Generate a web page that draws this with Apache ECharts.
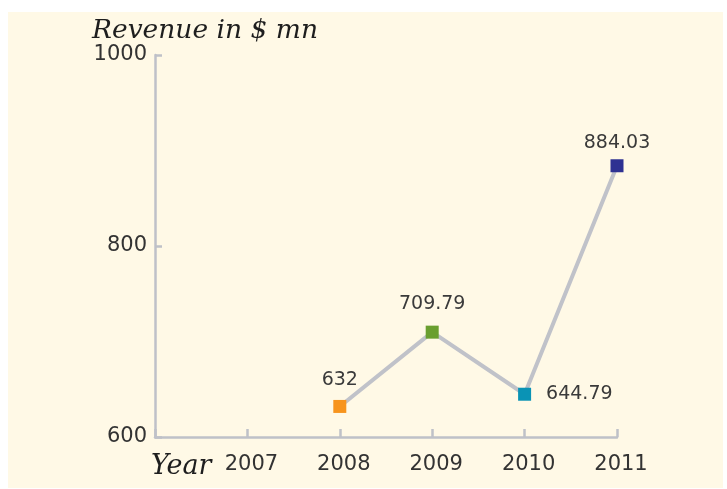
<!DOCTYPE html>
<html>
<head>
<meta charset="utf-8">
<script src="https://cdn.jsdelivr.net/npm/echarts@6/dist/echarts.min.js"></script>
<style>
html,body{margin:0;padding:0;background:#ffffff;}
#chart{width:727px;height:489px;}
</style>
</head>
<body>
<div id="chart"></div>
<script>
const years = [2008, 2009, 2010, 2011];
const revenue = [632, 709.79, 644.79, 884.03];
const revenueLabels = ['632', '709.79', '644.79', '884.03'];
const markerColors = ['#F7941D', '#6A9F2F', '#0A93B5', '#2E3192'];
const labelPositions = ['top', 'top', 'right', 'top'];
const labelDistances = [10, 12, 15, 7];
const xTickLabels = ['', '2007', '2008', '2009', '2010', '2011'];
const yTickLabels = ['600', '800', '1000'];

const chart = echarts.init(document.getElementById('chart'), null, {renderer: 'canvas'});
const axisColor = '#BFC1C8';
const textColor = '#333333';
const numFont = 'DejaVu Sans';

const data = years.map((y, i) => ({
  value: [y, revenue[i]],
  itemStyle: {color: markerColors[i]},
  label: {
    show: true,
    position: labelPositions[i],
    distance: labelDistances[i],
    formatter: revenueLabels[i],
    fontFamily: numFont,
    fontSize: 19,
    color: '#3a3a3a'
  }
}));

chart.setOption({
  animation: false,
  graphic: [
    {type: 'rect', z: -10, shape: {x: 8, y: 12, width: 715, height: 476}, style: {fill: '#FFF9E6'}},
    {type: 'text', left: 92, top: 18, style: {text: 'Revenue in $ mn', font: 'italic 26.5px "DejaVu Serif"', fill: '#1e1e1e'}},
    {type: 'text', left: 151, top: 453, style: {text: 'Year', font: 'italic 27px "DejaVu Serif"', fill: '#1e1e1e'}}
  ],
  grid: {left: 155, right: 110, top: 55, bottom: 52, containLabel: false},
  xAxis: {
    type: 'value',
    min: 2006, max: 2011, interval: 1,
    splitLine: {show: false},
    axisLine: {lineStyle: {color: axisColor, width: 2.5}},
    axisTick: {show: true, inside: true, length: 8, lineStyle: {color: axisColor, width: 2.5}},
    axisLabel: {
      formatter: v => xTickLabels[v - 2006],
      fontFamily: numFont, fontSize: 21, color: textColor, margin: 17,
      padding: [0, 0, 0, 8]
    }
  },
  yAxis: {
    type: 'value',
    min: 600, max: 1000, interval: 200,
    splitLine: {show: false},
    axisLine: {show: true, lineStyle: {color: axisColor, width: 2.5}},
    axisTick: {show: true, inside: true, length: 7, lineStyle: {color: axisColor, width: 2.5}},
    axisLabel: {formatter: v => yTickLabels[(v - 600) / 200], fontFamily: numFont, fontSize: 21, color: textColor, margin: 8}
  },
  series: [{
    type: 'line',
    data: data,
    symbol: 'rect',
    symbolSize: 13,
    lineStyle: {color: '#C0C2C9', width: 4},
    z: 5
  }]
});
</script>
</body>
</html>
